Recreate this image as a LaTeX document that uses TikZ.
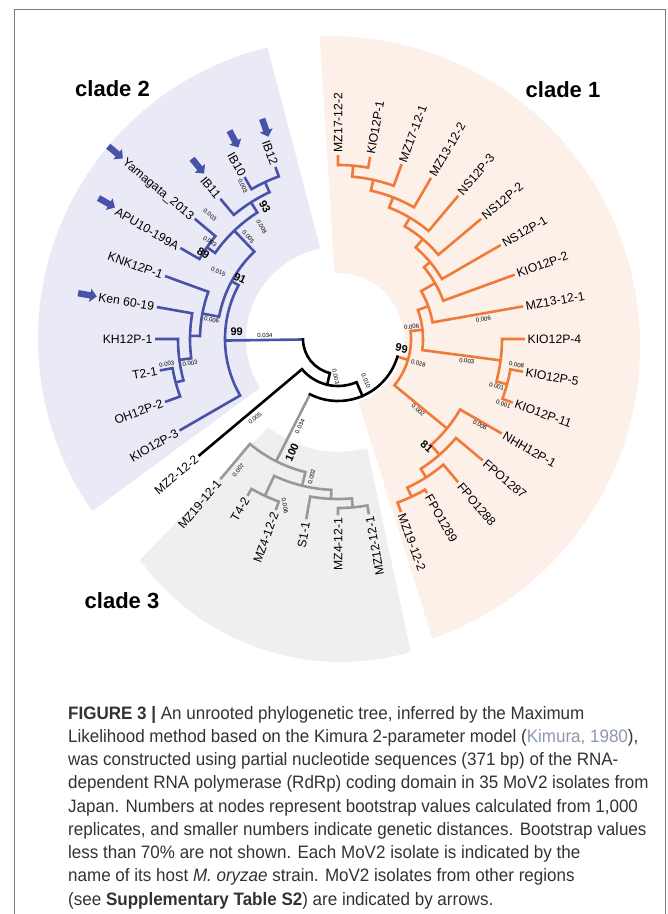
\documentclass[tikz,border=0pt]{standalone}
\usepackage{fontspec}
\setmainfont{Liberation Sans}
\newfontfamily\capfont[FakeStretch=0.945]{Liberation Sans}
\usetikzlibrary{shapes.arrows}
\definecolor{orT}{RGB}{240,122,58}
\definecolor{blT}{RGB}{72,82,168}
\definecolor{grT}{RGB}{152,152,152}
\definecolor{bgL}{RGB}{233,234,245}
\definecolor{bgP}{RGB}{252,240,232}
\definecolor{bgG}{RGB}{238,239,241}
\definecolor{frm}{RGB}{125,125,125}
\definecolor{capT}{RGB}{50,50,50}
\definecolor{refT}{RGB}{140,152,172}
\begin{document}
\begin{tikzpicture}[x=1pt, y=-1pt,
 br/.style={line width=2.6pt, line join=miter},
 lr/.style={anchor=west, inner sep=0pt, font=\fontsize{12.2}{14}\selectfont, text height=8.8pt, text depth=0pt},
 ll/.style={anchor=east, inner sep=0pt, font=\fontsize{12.2}{14}\selectfont, text height=8.8pt, text depth=0pt},
 bl/.style={inner sep=0pt, font=\fontsize{6}{7}\selectfont},
 bs/.style={inner sep=0pt, font=\bfseries\fontsize{11}{12}\selectfont},
 cl/.style={inner sep=0pt, font=\bfseries\fontsize{22}{24}\selectfont},
 arr/.style={single arrow, fill=blT, draw=none, minimum height=19pt, minimum width=13pt, single arrow head extend=3.5pt, inner sep=3pt, single arrow head indent=0pt},
 capline/.style={anchor=base west, inner sep=0pt, text=capT, font=\capfont\fontsize{18}{22}\selectfont}]
\useasboundingbox (0,0) rectangle (668,914);
% frame
\draw[frm, line width=1.3pt] (14.5,914) -- (14.5,9.5) -- (665.5,9.5) -- (665.5,914);
% backgrounds
\fill[bgP] (319.7,36.2) arc[start angle=268.1, end angle=430.7, radius=310] -- (358.4,401.8) arc[start angle=432, end angle=267, radius=66] -- cycle;
\fill[bgG] (367,448) arc[start angle=75.1, end angle=128.7, radius=112] -- (140,560) arc[start angle=143.8, end angle=73.7, radius=249] -- cycle;
\begin{scope}[shift={(338,339)}]
\fill[bgL] (259:92) -- (256.4:300) arc[start angle=256.4, end angle=145, radius=300] -- (148:92) arc[start angle=148, end angle=259, radius=92] -- cycle;
% ---- clade 1 (orange)
\begin{scope}[br, orT]
\draw (270:184) -- (270:174) arc[start angle=270, end angle=280, radius=174] -- (280:185);
\draw (275:174) -- (275:163) arc[start angle=275, end angle=290, radius=163] -- (290:186);
\draw (282.5:163) -- (282.5:152) arc[start angle=282.5, end angle=300, radius=152] -- (300:186);
\draw (291.25:152) -- (291.25:141) arc[start angle=291.25, end angle=310, radius=141] -- (310:187);
\draw (300.625:141) -- (300.625:131) arc[start angle=300.625, end angle=320, radius=131] -- (320:187);
\draw (310.3125:131) -- (310.3125:120) arc[start angle=310.3125, end angle=330, radius=120] -- (330:188);
\draw (320.156:120) -- (320.156:112) arc[start angle=320.156, end angle=340, radius=112] -- (340:188);
\draw (330.078:112) -- (330.078:96) arc[start angle=330.078, end angle=350, radius=96] -- (350:188);
\draw (370:188) -- (370:175) arc[start angle=370, end angle=380, radius=175] -- (380:186);
\draw (360:187) -- (360:164) arc[start angle=360, end angle=375, radius=164] -- (375:175);
\draw (340.039:96) -- (340.039:85) arc[start angle=340.039, end angle=367.5, radius=85] -- (367.5:164);
\draw (420:178) -- (420:174) arc[start angle=420, end angle=430, radius=174] -- (430:184);
\draw (410:187) -- (410:164) arc[start angle=410, end angle=425, radius=164] -- (425:174);
\draw (400:189) -- (400:154) arc[start angle=400, end angle=417.5, radius=154] -- (417.5:164);
\draw (390:189) -- (390:141) arc[start angle=390, end angle=408.75, radius=141] -- (408.75:154);
\draw (353.77:85) -- (353.77:73) arc[start angle=353.77, end angle=399.375, radius=73] -- (399.375:141);
\draw (376.57:62) -- (376.57:73);
\end{scope}
% ---- clade 3 (grey)
\begin{scope}[br, grT]
\draw (80:178) -- (80:169) arc[start angle=80, end angle=90, radius=169] -- (90:176);
\draw (85:169) -- (85:160) arc[start angle=85, end angle=100, radius=160] -- (100:183);
\draw (110:182) -- (110:173) arc[start angle=110, end angle=120, radius=173] -- (120:181);
\draw (92.5:160) -- (92.5:151) arc[start angle=92.5, end angle=115, radius=151] -- (115:173);
\draw (103.75:151) -- (103.75:137) arc[start angle=103.75, end angle=130, radius=137] -- (130:183);
\draw (116.875:62) -- (116.875:137);
\end{scope}
% ---- clade 2 (blue)
\begin{scope}[br, blT]
\draw (160:184) -- (160:168) arc[start angle=160, end angle=170, radius=168] -- (170:181);
\draw (165:168) -- (165:160) arc[start angle=165, end angle=180, radius=160] -- (180:183);
\draw (172.5:160) -- (172.5:148) arc[start angle=172.5, end angle=190, radius=148] -- (190:184);
\draw (181.25:148) -- (181.25:138) arc[start angle=181.25, end angle=200, radius=138] -- (200:184);
\draw (210:182) -- (210:160) arc[start angle=210, end angle=220, radius=160] -- (220:187);
\draw (240:187) -- (240:173) arc[start angle=240, end angle=250, radius=173] -- (250:183);
\draw (230:183) -- (230:162) arc[start angle=230, end angle=245, radius=162] -- (245:173);
\draw (215:160) -- (215:150) arc[start angle=215, end angle=237.5, radius=150] -- (237.5:162);
\draw (190.625:138) -- (190.625:121) arc[start angle=190.625, end angle=226.25, radius=121] -- (226.25:150);
\draw (150:183) -- (150:113) arc[start angle=150, end angle=208.44, radius=113] -- (208.44:121);
\draw (179.22:35) -- (179.22:113);
\end{scope}
% ---- backbone (black)
\begin{scope}[br, black]
\draw (140:47) -- (140:182);
\draw[line cap=rect] (103.36:47) -- (103.36:35) arc[start angle=103.36, end angle=179.22, radius=35];
\draw[line cap=rect] (66.72:62) -- (66.72:47) arc[start angle=66.72, end angle=140, radius=47];
\draw[line cap=rect] (16.57:62) arc[start angle=16.57, end angle=116.875, radius=62];
\end{scope}
% ---- leaf labels
\node[lr, rotate=-270] (l1) at (270:186.5) {MZ17-12-2};
\node[lr, rotate=-280] (l2) at (280:187.5) {KIO12P-1};
\node[lr, rotate=-290] (l3) at (290:188.5) {MZ17-12-1};
\node[lr, rotate=-300] (l4) at (300:188.5) {MZ13-12-2};
\node[lr, rotate=-310] (l5) at (310:189.5) {NS12P-3};
\node[lr, rotate=-320] (l6) at (320:189.5) {NS12P-2};
\node[lr, rotate=-330] (l7) at (330:190.5) {NS12P-1};
\node[lr, rotate=-340] (l8) at (340:190.5) {KIO12P-2};
\node[lr, rotate=-350] (l9) at (350:190.5) {MZ13-12-1};
\node[lr, rotate=-360] (l10) at (360:189.5) {KIO12P-4};
\node[lr, rotate=-370] (l11) at (370:190.5) {KIO12P-5};
\node[lr, rotate=-380] (l12) at (380:188.5) {KIO12P-11};
\node[lr, rotate=-390] (l13) at (390:191.5) {NHH12P-1};
\node[lr, rotate=-400] (l14) at (400:191.5) {FPO1287};
\node[lr, rotate=-410] (l15) at (410:189.5) {FPO1288};
\node[lr, rotate=-420] (l16) at (420:180.5) {FPO1289};
\node[lr, rotate=-430] (l17) at (430:186.5) {MZ19-12-2};
\node[ll, rotate=100] (l18) at (80:180.5) {MZ12-12-1};
\node[ll, rotate=90] (l19) at (90:178.5) {MZ4-12-1};
\node[ll, rotate=80] (l20) at (100:185.5) {S1-1};
\node[ll, rotate=70] (l21) at (110:184.5) {MZ4-12-2};
\node[ll, rotate=60] (l22) at (120:183.5) {T4-2};
\node[ll, rotate=50] (l23) at (130:185.5) {MZ19-12-1};
\node[ll, rotate=40] (l24) at (140:184.5) {MZ2-12-2};
\node[ll, rotate=30] (l25) at (150:185.5) {KIO12P-3};
\node[ll, rotate=20] (l26) at (160:186.5) {OH12P-2};
\node[ll, rotate=10] (l27) at (170:183.5) {T2-1};
\node[ll, rotate=0] (l28) at (180:185.5) {KH12P-1};
\node[ll, rotate=-10] (l29) at (190:186.5) {Ken 60-19};
\node[ll, rotate=-20] (l30) at (200:186.5) {KNK12P-1};
\node[ll, rotate=-30] (l31) at (210:184.5) {APU10-199A};
\node[ll, rotate=-40] (l32) at (220:189.5) {Yamagata\_2013};
\node[ll, rotate=-50] (l33) at (230:185.5) {IB11};
\node[ll, rotate=-60] (l34) at (240:189.5) {IB10};
\node[ll, rotate=-70] (l35) at (250:185.5) {IB12};
% arrows
\node[arr, rotate=-71] (a1) at (251:225) {};
\node[arr, rotate=-62] (a2) at (242.5:227) {};
\node[arr, rotate=-51] (a3) at (231:224) {};
\node[arr, rotate=-40] (a4) at (220:292) {};
\node[arr, rotate=-30] (a5) at (210.5:270) {};
\node[arr, rotate=-10] (a6) at (190:256) {};
\end{scope}
% branch lengths
\node[bl, rotate=6] (b1) at (411.7,326.7) {0.006};
\node[bl, rotate=10] (b2) at (483.3,319.3) {0.006};
\node[bl, rotate=-17] (b3) at (418.3,363.3) {0.028};
\node[bl, rotate=-7] (b4) at (466.7,361) {0.003};
\node[bl, rotate=-9] (b5) at (516.7,365) {0.008};
\node[bl, rotate=-15] (b6) at (496.7,386) {0.001};
\node[bl, rotate=-19] (b7) at (503.3,404) {0.001};
\node[bl, rotate=-39] (b8) at (418.3,410) {0.002};
\node[bl, rotate=-30] (b9) at (480,425) {0.006};
\node[bl, rotate=-78] (b10) at (335.7,376.7) {0.003};
\node[bl, rotate=-67] (b11) at (366,380.5) {0.010};
\node[bl] (b12) at (265,335) {0.034};
\node[bl, rotate=40] (b13) at (255,418.3) {0.005};
\node[bl, rotate=63] (b14) at (300,426.7) {0.034};
\node[bl, rotate=76] (b15) at (311.7,476.7) {0.002};
\node[bl, rotate=50] (b16) at (238.3,470) {0.007};
\node[bl, rotate=-80] (b17) at (285,506) {0.006};
\node[bl, rotate=-10] (b18) at (211.7,320) {0.006};
\node[bl, rotate=8] (b19) at (166.7,364) {0.003};
\node[bl, rotate=8] (b20) at (190,363.3) {0.003};
\node[bl, rotate=-22] (b21) at (218.3,271.7) {0.015};
\node[bl, rotate=-50] (b22) at (248.3,236.7) {0.005};
\node[bl, rotate=-60] (b23) at (261.7,226.7) {0.008};
\node[bl, rotate=-35] (b24) at (210,241.7) {0.003};
\node[bl, rotate=-40] (b25) at (210,215) {0.003};
\node[bl, rotate=-65] (b26) at (242.8,186.1) {0.003};
% bootstrap values
\node[bs, rotate=-60] (s1) at (265,206.7) {93};
\node[bs, rotate=-30] (s2) at (203.3,253.3) {89};
\node[bs, rotate=-25] (s3) at (240,278.3) {91};
\node[bs] (s4) at (236.7,331.7) {99};
\node[bs, rotate=-12] (s5) at (401.7,348.3) {99};
\node[bs, rotate=-40] (s6) at (426.7,447) {81};
\node[bs, rotate=65] (s7) at (292,452.5) {100};
% clade labels
\node[cl] (c2) at (112.5,89) {clade 2};
\node[cl] (c1) at (563,90) {clade 1};
\node[cl] (c3) at (122,601) {clade 3};
% caption
\node[capline] (cap1) at (68,719) {\textbf{FIGURE 3 |} An unrooted phylogenetic tree, inferred by the Maximum};
\node[capline] (cap2) at (68,742.25) {Likelihood method based on the Kimura 2-parameter model ({\color{refT}Kimura, 1980}),};
\node[capline] (cap3) at (68,765.5) {was constructed using partial nucleotide sequences (371 bp) of the RNA-};
\node[capline] (cap4) at (68,788.75) {dependent RNA polymerase (RdRp) coding domain in 35 MoV2 isolates from};
\node[capline] (cap5) at (68,812) {Japan. Numbers at nodes represent bootstrap values calculated from 1,000};
\node[capline] (cap6) at (68,835.25) {replicates, and smaller numbers indicate genetic distances. Bootstrap values};
\node[capline] (cap7) at (68,858.5) {less than 70\% are not shown. Each MoV2 isolate is indicated by the};
\node[capline] (cap8) at (68,881.75) {name of its host \textit{M. oryzae} strain. MoV2 isolates from other regions};
\node[capline] (cap9) at (68,905) {(see \textbf{Supplementary Table S2}) are indicated by arrows.};
\end{tikzpicture}
\end{document}
